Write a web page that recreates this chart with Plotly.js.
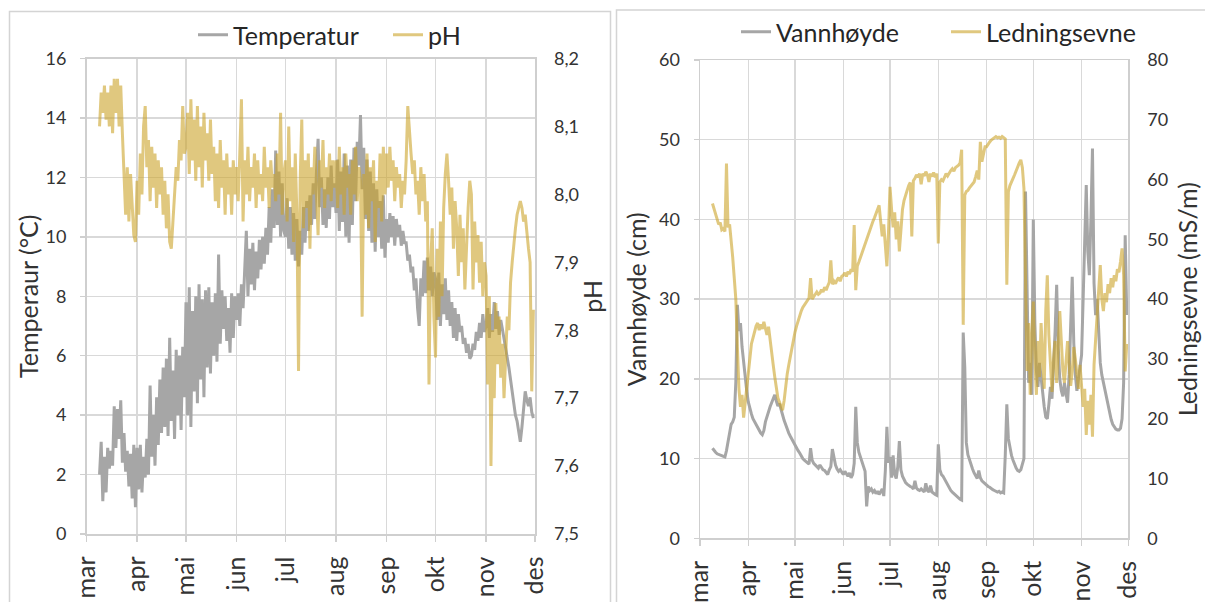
<!DOCTYPE html>
<html>
<head>
<meta charset="utf-8">
<script src="https://cdn.plot.ly/plotly-3.0.1.min.js"></script>
<style>
  html, body { margin: 0; padding: 0; background: #ffffff; }
  #chart { width: 1205px; height: 602px; }
</style>
</head>
<body>
<div id="chart"></div>
<script>
// ---------- DATA (daily readings, 9 Mar – 30 Nov) ----------
const startDate = '2019-03-09';
const monthTicks = ['2019-03-01','2019-04-01','2019-05-01','2019-06-01','2019-07-01','2019-08-01','2019-09-01','2019-10-01','2019-11-01','2019-12-01'];
const monthLabels = ['mar','apr','mai','jun','jul','aug','sep','okt','nov','des'];

const temperatur = [
  2.0, 3.1, 1.1, 2.6, 1.4, 2.9, 2.2, 2.8, 2.3, 4.3, 2.9, 4.2, 3.2, 4.5, 2.4, 3.4, 2.1, 2.8, 1.6, 2.7, 1.2, 3.0, 0.9,
  2.9, 1.5, 3.0, 1.4, 2.6, 1.9, 3.2, 2.0, 5.0, 2.6, 4.0, 2.3, 4.6, 3.0, 5.2, 3.4, 5.6, 3.6, 5.9, 3.3, 6.6, 3.8, 5.5, 3.2, 6.2, 4.0, 6.0, 3.5, 6.3, 4.6,
  7.8, 4.0, 8.3, 3.6, 7.5, 4.8, 8.0, 4.4, 8.4, 5.2, 7.9, 4.6, 8.2, 5.6, 8.3, 5.4, 7.8, 6.0, 8.1, 5.8, 9.4, 6.4, 8.2, 6.9, 8.0, 6.5, 7.6, 6.1, 8.1, 6.6, 8.0,
  7.2, 8.1, 7.0, 8.4, 7.6, 9.0, 10.2, 8.0, 9.6, 8.4, 9.8, 8.2, 9.5, 8.6, 9.9, 8.9, 10.0, 9.1, 10.3, 9.4, 11.0, 9.8, 11.6, 10.3, 12.9, 10.4, 12.2, 10.0, 11.8, 10.2,
  10.0, 11.3, 9.6, 11.0, 9.4, 10.8, 9.2, 10.6, 9.0, 10.2, 9.4, 11.0, 9.8, 11.2, 10.2, 11.4, 10.4, 11.8, 10.6, 12.2, 13.3, 11.0, 12.0, 10.4, 11.6, 10.3, 12.0, 10.6, 12.4, 11.0, 11.8,
  10.8, 12.6, 10.2, 12.2, 10.5, 12.8, 10.0, 12.4, 9.8, 12.6, 10.4, 13.0, 11.2, 13.2, 12.4, 14.1, 11.6, 13.0, 10.6, 12.6, 10.2, 12.2, 9.8, 11.8, 9.5, 11.6, 10.0, 11.2, 9.6, 11.4, 9.3,
  10.6, 9.8, 10.8, 10.0, 10.7, 9.7, 10.6, 10.0, 10.4, 9.7, 10.2, 9.8, 9.8, 9.2, 9.4, 8.8, 9.0, 8.2, 8.6, 7.6, 7.0, 8.6, 8.0, 9.2, 8.1, 9.3, 8.2, 9.0, 8.0, 8.8,
  8.6, 7.2, 8.8, 7.0, 8.4, 7.4, 8.6, 7.2, 8.2, 7.0, 7.8, 6.6, 7.6, 6.5, 7.4, 6.8, 7.0, 6.4, 6.6, 6.1, 6.4, 5.9, 6.0, 6.4, 6.2, 6.8, 6.5, 7.1, 6.6, 7.4, 6.8,
  7.0, 7.6, 6.6, 7.4, 6.8, 7.8, 6.9, 7.5, 6.7, 7.2, 6.9, 6.6, 6.3, 5.9, 5.6, 5.2, 4.8, 4.5, 4.0, 3.8, 3.4, 3.1, 3.6, 4.1, 4.8, 4.5, 4.3, 4.6, 4.1, 3.9
];

const pH = [
  8.10, 8.15, 8.12, 8.16, 8.11, 8.15, 8.10, 8.16, 8.09, 8.17, 8.12, 8.17, 8.10, 8.16, 8.09, 8.02, 7.97, 8.04, 7.96, 8.03, 7.98, 7.94, 7.93,
  8.02, 7.97, 8.06, 8.00, 8.10, 8.13, 8.04, 8.08, 7.99, 8.07, 8.01, 8.06, 7.98, 8.05, 8.00, 8.04, 7.97, 8.02, 7.95, 8.00, 7.93, 7.92, 7.96, 8.00, 8.04, 8.02, 8.08, 8.05, 8.13, 8.06,
  8.07, 8.12, 8.03, 8.14, 8.05, 8.11, 8.02, 8.13, 8.04, 8.10, 8.01, 8.12, 8.05, 8.09, 8.02, 8.11, 8.03, 8.07, 7.99, 8.06, 7.98, 8.08, 8.01, 8.05, 7.97, 8.06, 8.00, 8.04, 7.97, 8.05, 8.00,
  8.04, 7.99, 8.06, 8.14, 7.96, 8.05, 8.00, 8.07, 7.99, 8.04, 8.01, 8.06, 7.98, 8.05, 8.00, 8.03, 7.99, 8.07, 8.01, 8.04, 7.98, 8.05, 8.01, 8.03, 7.99, 8.06, 8.00, 8.12, 7.97, 8.03,
  8.05, 7.96, 8.10, 7.99, 8.04, 7.93, 8.06, 7.97, 7.74, 8.02, 8.11, 7.95, 8.05, 7.98, 8.06, 7.92, 8.04, 8.00, 8.07, 7.99, 7.94, 8.05, 8.01, 8.08, 7.98, 8.04, 8.00, 8.06, 7.99, 8.05, 8.01,
  8.05, 7.98, 8.07, 8.00, 8.04, 7.97, 8.06, 8.01, 8.03, 7.97, 8.05, 8.00, 8.07, 7.99, 8.04, 8.02, 7.82, 8.03, 7.97, 8.06, 7.95, 8.04, 7.99, 8.05, 7.93, 8.02, 7.98, 8.06, 7.96, 8.07, 8.00,
  8.06, 8.01, 8.07, 8.02, 8.05, 7.99, 8.04, 8.01, 8.03, 7.98, 8.02, 8.00, 8.05, 8.13, 8.09, 8.06, 8.03, 8.05, 8.00, 8.02, 7.97, 8.04, 7.99, 8.03, 7.96, 7.99, 7.72, 7.90, 7.95, 7.82,
  7.76, 7.92, 7.82, 7.96, 7.85, 7.98, 8.03, 8.06, 8.02, 7.97, 8.01, 7.92, 7.99, 7.95, 7.88, 7.97, 7.90, 7.95, 7.86, 7.93, 7.98, 8.02, 8.00, 7.86, 7.96, 7.90, 7.94, 7.87, 7.93, 7.85, 7.90,
  7.88, 7.72, 7.85, 7.60, 7.80, 7.70, 7.84, 7.75, 7.82, 7.73, 7.78, 7.70, 7.76, 7.82, 7.80, 7.87, 7.90, 7.93, 7.95, 7.97, 7.98, 7.99, 7.98, 7.96, 7.97, 7.94, 7.92, 7.90, 7.71, 7.83
];

const vannhoyde = [
  11.3, 11.0, 10.8, 10.6, 10.5, 10.4, 10.3, 10.2, 10.2, 11.0, 12.3, 13.6, 14.3, 14.6, 15.2, 19.6, 29.3, 26.0, 27.0, 24.0, 22.0, 20.5, 18.5,
  17.1, 16.2, 15.6, 15.0, 14.6, 14.2, 13.8, 13.4, 13.2, 13.0, 13.5, 14.6, 15.3, 15.8, 16.5, 17.0, 17.6, 18.0, 17.2, 16.6, 16.9, 16.3, 15.5, 14.8, 14.2, 13.6, 13.2, 12.8, 12.4, 12.1,
  11.8, 11.4, 11.0, 10.7, 10.3, 10.0, 9.8, 9.6, 9.4, 9.3, 11.3, 9.8, 9.4, 9.2, 9.0, 8.8, 9.2, 8.9, 8.6, 8.5, 8.2, 8.0, 8.6, 9.0, 11.2, 10.0, 9.2, 8.7, 8.4, 8.6, 8.2,
  8.0, 8.4, 8.1, 7.8, 8.2, 7.6, 8.0, 9.4, 16.5, 12.0, 10.8, 10.2, 9.6, 9.0, 8.4, 4.0, 6.5, 6.0, 6.2, 5.8, 6.0, 5.6, 5.9, 5.5, 5.8, 6.2, 5.3, 8.5, 14.0, 9.5,
  10.2, 7.6, 10.4, 8.0, 7.5, 9.0, 12.2, 8.6, 7.8, 7.3, 7.0, 6.8, 6.6, 6.5, 6.4, 6.2, 7.2, 6.3, 6.1, 6.0, 6.2, 6.0, 5.8, 6.9, 6.0, 5.8, 6.6, 5.8, 5.6, 5.5, 5.4,
  11.8, 8.6, 8.0, 7.8, 7.4, 7.0, 6.6, 6.3, 6.0, 5.8, 5.6, 5.4, 5.2, 5.0, 4.9, 4.8, 25.8, 21.5, 12.0, 10.5, 9.8, 9.2, 8.7, 8.2, 7.8, 7.5, 8.5, 7.6, 7.2, 7.0, 6.8,
  6.7, 6.5, 6.4, 6.2, 6.1, 6.0, 5.9, 5.8, 5.9, 5.7, 5.8, 5.7, 10.4, 16.8, 12.5, 11.2, 10.4, 9.8, 9.2, 8.8, 8.5, 8.4, 8.6, 9.2, 10.0, 43.5, 28.0, 19.5, 22.0, 18.0,
  40.0, 27.0, 21.0, 19.0, 22.0, 20.0, 18.0, 16.5, 15.2, 15.0, 16.8, 19.0, 17.5, 21.0, 26.0, 31.8, 24.0, 20.0, 18.5, 17.8, 19.5, 18.2, 17.0, 20.5, 26.5, 32.8, 24.5, 20.5, 18.5, 19.8, 21.5,
  23.0, 30.0, 38.0, 44.3, 36.0, 33.0, 40.0, 48.9, 32.0, 28.0, 30.0, 25.0, 22.0, 20.5, 19.5, 18.5, 17.5, 16.5, 15.6, 14.9, 14.3, 13.9, 13.7, 13.6, 13.6, 13.8, 15.0, 19.5, 38.0, 28.0
];

const ledningsevne = [
  56.0, 55.0, 54.2, 53.5, 52.5, 52.8, 51.6, 51.8, 51.3, 62.7, 52.0, 52.5, 50.0, 47.0, 43.5, 40.0, 32.0, 25.0, 22.0, 24.0, 20.2, 22.5, 25.0,
  27.0, 30.0, 32.5, 33.5, 34.6, 35.5, 36.0, 34.8, 35.8, 35.0, 36.2, 35.2, 34.0, 35.4, 33.0, 31.0, 29.0, 27.0, 25.0, 23.5, 22.8, 22.0, 21.4, 23.0, 25.5, 27.5, 29.0, 30.5, 32.0, 33.4,
  34.5, 35.5, 36.5, 37.2, 38.0, 38.6, 39.0, 39.4, 39.8, 40.2, 43.5, 40.0, 40.4, 40.8, 41.2, 40.8, 41.0, 41.6, 41.2, 42.0, 41.5, 42.2, 42.8, 46.5, 42.5, 43.0, 42.6, 43.2, 43.6, 43.0, 43.8,
  44.0, 44.4, 43.8, 44.6, 44.2, 45.0, 44.6, 52.4, 41.5, 45.5, 46.2, 47.0, 47.8, 48.6, 49.2, 50.0, 50.8, 51.6, 52.3, 53.0, 53.6, 54.3, 55.0, 55.7, 53.0, 50.5, 52.5, 49.0, 45.5, 51.0,
  58.8, 55.0, 52.0, 54.5, 50.0, 53.0, 48.0, 51.5, 55.0, 56.5, 57.5, 58.2, 59.0, 59.5, 50.5, 59.8, 60.2, 60.8, 60.4, 61.0, 59.2, 61.0, 60.6, 61.3, 60.8, 59.6, 61.0, 60.5, 61.2, 60.4, 61.0,
  49.3, 59.6, 60.0, 59.8, 60.5, 61.0, 60.6, 61.2, 61.5, 61.8, 61.4, 62.0, 62.2, 62.4, 62.8, 65.0, 35.7, 57.4, 58.0, 58.2, 58.6, 59.0, 59.4, 59.6, 60.5, 61.5, 60.0, 66.3, 63.0, 64.5, 65.5,
  65.5, 66.0, 66.3, 66.6, 66.8, 67.0, 67.2, 67.0, 67.1, 66.9, 67.2, 67.0, 66.8, 42.4, 58.0, 59.0, 59.8, 60.2, 60.8, 61.5, 62.4, 62.8, 63.3, 62.0, 58.5, 45.0, 28.0, 36.0, 24.0, 34.0,
  39.6, 30.0, 24.0, 33.0, 27.0, 36.0, 30.0, 25.0, 38.0, 44.0, 34.0, 28.0, 24.5, 30.0, 33.0, 26.0, 31.0, 38.0, 33.0, 28.0, 26.0, 30.0, 33.0, 29.0, 25.5, 28.0, 32.0, 30.0, 27.0, 25.0, 29.0,
  26.0, 22.0, 25.0, 17.3, 23.0, 19.0, 24.0, 17.0, 29.0, 33.0, 38.0, 42.0, 45.7, 40.0, 38.0, 41.0, 39.5, 42.5, 41.0, 43.5, 42.0, 44.0, 43.0, 45.0, 44.5, 46.3, 48.5, 44.0, 27.9, 32.5
];

// ---------- STYLE ----------
const FONT = 'Lato, "Open Sans", sans-serif';
const TXT = '#333333';
const LEGTXT = '#262626';
const GRID = '#d9d9d9';
const AXLINE = '#cfcfcf';
const GRAY = '#a6a6a6';
const GOLD = 'rgba(204,163,42,0.6)';
const DAY = 86400000;

const traces = [
  { name: 'Temperatur', y: temperatur, x0: startDate, dx: DAY, type: 'scatter', mode: 'lines',
    line: { color: GRAY, width: 3 }, xaxis: 'x', yaxis: 'y', legend: 'legend' },
  { name: 'pH', y: pH, x0: startDate, dx: DAY, type: 'scatter', mode: 'lines',
    line: { color: GOLD, width: 3 }, xaxis: 'x', yaxis: 'y2', legend: 'legend' },
  { name: 'Vannhøyde', y: vannhoyde, x0: startDate, dx: DAY, type: 'scatter', mode: 'lines',
    line: { color: GRAY, width: 3 }, xaxis: 'x2', yaxis: 'y3', legend: 'legend2' },
  { name: 'Ledningsevne', y: ledningsevne, x0: startDate, dx: DAY, type: 'scatter', mode: 'lines',
    line: { color: GOLD, width: 3 }, xaxis: 'x2', yaxis: 'y4', legend: 'legend2' }
];

function xAxis(domain, anchor) {
  return {
    domain: domain, anchor: anchor, type: 'date',
    range: ['2019-03-01', '2019-12-01'],
    tickmode: 'array', tickvals: monthTicks, ticktext: monthLabels, tickangle: -90,
    tickfont: { family: FONT, size: 25, color: TXT },
    showgrid: true, gridcolor: GRID, gridwidth: 1.5,
    showline: true, linecolor: AXLINE, linewidth: 1.5, mirror: true,
    ticks: 'outside', ticklen: 6, tickcolor: AXLINE, tickwidth: 1.5,
    ticklabelstandoff: 5,
    zeroline: false, automargin: false, fixedrange: true
  };
}
function yLeft(domain, anchor, range, dtick, title, standoff) {
  return {
    domain: domain, anchor: anchor, range: range, dtick: dtick, tick0: 0,
    tickfont: { family: FONT, size: 18, color: TXT },
    showgrid: true, gridcolor: GRID, gridwidth: 1.5,
    showline: true, linecolor: AXLINE, linewidth: 1.5, mirror: true,
    ticks: 'outside', ticklen: 5, tickcolor: AXLINE, tickwidth: 1.5,
    ticklabelstandoff: 10,
    zeroline: false, automargin: false, fixedrange: true,
    title: { text: title, font: { family: FONT, size: 25, color: TXT }, standoff: standoff }
  };
}
function yRight(overlay, anchor, range, dtick, fmt, title, standoff) {
  return {
    overlaying: overlay, anchor: anchor, side: 'right', range: range, dtick: dtick, tick0: range[0],
    tickformat: fmt,
    tickfont: { family: FONT, size: 18, color: TXT },
    showgrid: false, showline: false, ticks: '', ticklabelstandoff: 18,
    zeroline: false, automargin: false, fixedrange: true,
    title: { text: title, font: { family: FONT, size: 25, color: TXT }, standoff: standoff }
  };
}

const layout = {
  width: 1205, height: 602,
  margin: { l: 0, r: 0, t: 0, b: 0, pad: 0 },
  paper_bgcolor: '#ffffff', plot_bgcolor: '#ffffff',
  separators: ',.',
  font: { family: FONT, color: TXT },
  xaxis: xAxis([86.5 / 1205, 535 / 1205], 'y'),
  yaxis: yLeft([1 - 534 / 602, 1 - 58.5 / 602], 'x', [0, 16], 2, 'Temperaur (°C)', 0),
  yaxis2: yRight('y', 'x', [7.5, 8.2], 0.1, '.1f', 'pH', 6),
  xaxis2: xAxis([700 / 1205, 1128.3 / 1205], 'y3'),
  yaxis3: yLeft([1 - 538.3 / 602, 1 - 60 / 602], 'x2', [0, 60], 10, 'Vannhøyde (cm)', 5),
  yaxis4: yRight('y3', 'x2', [0, 80], 10, 'd', 'Ledningsevne (mS/m)', 12),
  showlegend: true,
  legend: {
    orientation: 'h', x: 193 / 1205, xanchor: 'left', y: 1 - 35 / 602, yanchor: 'middle',
    entrywidth: 150, entrywidthmode: 'pixels',
    font: { family: FONT, size: 25, color: LEGTXT }, bgcolor: 'rgba(0,0,0,0)', traceorder: 'normal'
  },
  legend2: {
    orientation: 'h', x: 736 / 1205, xanchor: 'left', y: 1 - 32 / 602, yanchor: 'middle',
    entrywidth: 165, entrywidthmode: 'pixels',
    font: { family: FONT, size: 25, color: LEGTXT }, bgcolor: 'rgba(0,0,0,0)', traceorder: 'normal'
  },
  shapes: [
    { type: 'rect', xref: 'paper', yref: 'paper', x0: 9.5 / 1205, x1: 610.5 / 1205, y0: -0.05, y1: 1 - 11.5 / 602,
      line: { color: '#d4d4d4', width: 1.5 }, fillcolor: 'rgba(0,0,0,0)', layer: 'below' },
    { type: 'rect', xref: 'paper', yref: 'paper', x0: 616.5 / 1205, x1: 1.05, y0: -0.05, y1: 1 - 10 / 602,
      line: { color: '#d4d4d4', width: 1.5 }, fillcolor: 'rgba(0,0,0,0)', layer: 'below' }
  ]
};

Plotly.newPlot('chart', traces, layout, { displayModeBar: false, staticPlot: true });
</script>
</body>
</html>
